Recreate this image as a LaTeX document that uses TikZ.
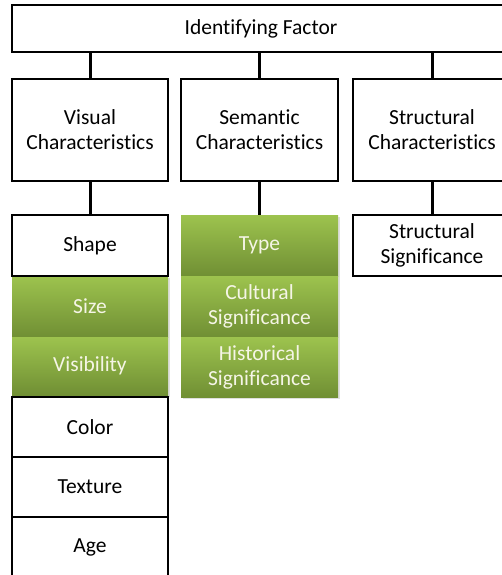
\documentclass[tikz,border=0pt]{standalone}
\usepackage{fontspec}
\setmainfont{Carlito}[Ligatures=NoCommon]
\usetikzlibrary{shadows}
\definecolor{leaftop}{RGB}{157,195,78}
\definecolor{leafbot}{RGB}{112,143,52}
\definecolor{leaftext}{RGB}{245,245,230}
\begin{document}
\begin{tikzpicture}[
  x=1pt, y=-1pt,
  every node/.style={font=\fontsize{21.5}{25}\selectfont, align=center, inner sep=0pt},
  box/.style={draw, line width=2.4pt, fill=white, minimum width=156pt, minimum height=61pt},
  head/.style={box, minimum height=102pt},
  leaf/.style={minimum width=156pt, minimum height=61pt, text=leaftext,
    top color=leaftop, bottom color=leafbot, drop shadow={shadow xshift=1.5pt, shadow yshift=-1.5pt, opacity=0.25}},
  link/.style={line width=3pt}
]
\useasboundingbox (0,0) rectangle (501,575);

\node[box, minimum width=498pt, minimum height=47pt] (root) at (261,28.5) {Identifying Factor};

\node[head] (visual) at (90,130) {Visual\\Characteristics};
\node[head, minimum width=157pt] (semantic) at (259.5,130) {Semantic\\Characteristics};
\node[head, minimum width=158pt] (structural) at (432,130) {Structural\\Characteristics};

% visual column
\node[leaf] (size) at (90,306.5) {Size};
\node[leaf, minimum height=58pt] (visibility) at (90,366) {Visibility};
\node[box] (shape) at (90,245.5) {Shape};
\node[box, minimum height=60pt] (color) at (90,427) {Color};
\node[box, minimum height=60pt] (texture) at (90,487) {Texture};
\node[box, minimum height=60pt] (age) at (90,547) {Age};

% semantic column
\node[leaf, minimum width=157pt] (type) at (259.5,245.5) {Type};
\node[leaf, minimum width=157pt] (cultural) at (259.5,306.5) {Cultural\\Significance};
\node[leaf, minimum width=157pt, minimum height=60pt] (historical) at (259.5,367) {Historical\\Significance};

% structural column
\node[box, minimum width=158pt] (structsig) at (432,245.5) {Structural\\Significance};

\foreach \b in {visual, semantic, structural}
  \draw[link] (root.south -| \b.north) -- (\b.north);
\draw[link] (visual.south) -- (shape.north);
\draw[link] (semantic.south) -- (type.north);
\draw[link] (structural.south) -- (structsig.north);
\end{tikzpicture}
\end{document}
